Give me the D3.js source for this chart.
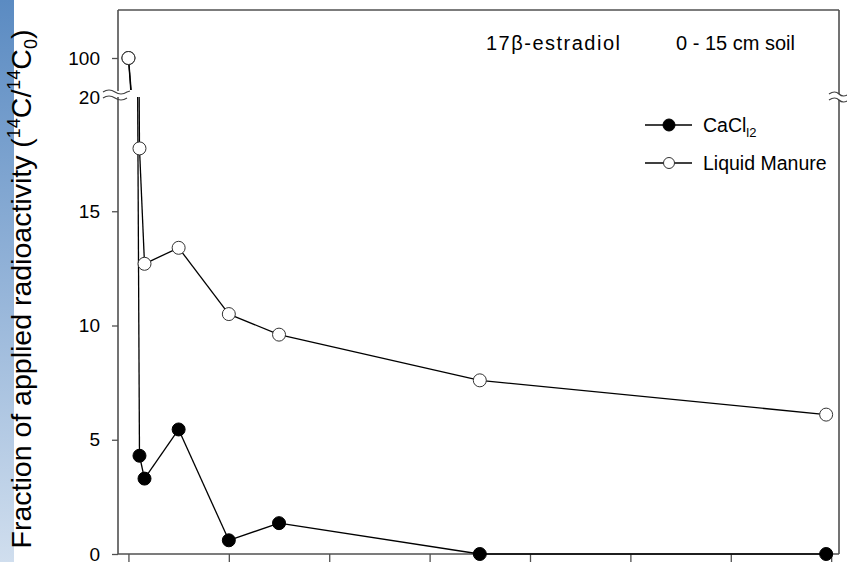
<!DOCTYPE html>
<html>
<head>
<meta charset="utf-8">
<script src="https://cdn.jsdelivr.net/npm/d3@7"></script>
<style>
  html, body { margin: 0; padding: 0; background: #fff; }
  svg { display: block; }
  text { font-family: "Liberation Sans", Arial, sans-serif; fill: #000; }
</style>
</head>
<body>
<svg id="chart" width="847" height="562"></svg>
<script>
// ---- data ----
const times   = [0, 1.1, 1.6, 5, 10, 15, 35, 69.5];
const cacl2   = [100, 4.3, 3.3, 5.45, 0.6, 1.35, 0, 0];
const manure  = [100, 17.75, 12.7, 13.4, 10.5, 9.6, 7.6, 6.1];
const seriesNames = ["CaCl", "Liquid Manure"];
const yTicksLower = [0, 5, 10, 15, 20];
const yTicksUpper = [100];
const xTicks = [0, 10, 20, 30, 40, 50, 60, 70];
const titleLeft = "17β-estradiol";
const titleRight = "0 - 15 cm soil";

const svg = d3.select("#chart");
const W = 847, H = 562;
const L = 118, R = 839, T = 10, B = 554;
const breakTop = 91, breakBot = 97;

// left gradient strip
const defs = svg.append("defs");
const grad = defs.append("linearGradient").attr("id", "strip")
  .attr("x1", 0).attr("y1", 0).attr("x2", 0).attr("y2", 1);
grad.append("stop").attr("offset", "0%").attr("stop-color", "#5b8bc2");
grad.append("stop").attr("offset", "50%").attr("stop-color", "#93b3d8");
grad.append("stop").attr("offset", "100%").attr("stop-color", "#d0deee");
svg.append("rect").attr("x", 0).attr("y", 0).attr("width", 14).attr("height", H)
  .attr("fill", "url(#strip)");

// scales
const x = d3.scaleLinear().domain([-1.04, 70.78]).range([L, R]);
const yLow = d3.scaleLinear().domain([0, 20]).range([B, 97]);
const yUp = d3.scaleLinear().domain([80, 130]).range([90, T]);
const segs = [{s: yLow, lo: 0, hi: 20}, {s: yUp, lo: 80, hi: 130}];

function yOf(v) { return v > 20 ? yUp(v) : yLow(v); }

// frame
const frameColor = "#505050";
const frame = svg.append("g").attr("stroke", frameColor).attr("stroke-width", 1.6).attr("fill", "none");
frame.append("line").attr("x1", L).attr("x2", R).attr("y1", T).attr("y2", T);
frame.append("line").attr("x1", L).attr("x2", R).attr("y1", B).attr("y2", B);
frame.append("line").attr("x1", L).attr("x2", L).attr("y1", T).attr("y2", breakTop);
frame.append("line").attr("x1", L).attr("x2", L).attr("y1", breakBot).attr("y2", B);
frame.append("line").attr("x1", R).attr("x2", R).attr("y1", T).attr("y2", breakTop + 3);
frame.append("line").attr("x1", R).attr("x2", R).attr("y1", breakBot + 3).attr("y2", B);

// axes
const tickFont = 19;
const axL = svg.append("g").attr("transform", `translate(${L},0)`)
  .call(d3.axisLeft(yLow).tickValues(yTicksLower).tickSize(6).tickPadding(12).tickFormat(d3.format("d")));
const axU = svg.append("g").attr("transform", `translate(${L},0)`)
  .call(d3.axisLeft(yUp).tickValues(yTicksUpper).tickSize(6).tickPadding(12).tickFormat(d3.format("d")));
const axB = svg.append("g").attr("transform", `translate(0,${B})`)
  .call(d3.axisBottom(x).tickValues(xTicks).tickSize(8).tickFormat(""));
[axL, axU, axB].forEach(a => {
  a.select(".domain").remove();
  a.selectAll(".tick line").attr("stroke", frameColor).attr("stroke-width", 1.3);
  a.selectAll(".tick text").attr("font-size", tickFont).attr("font-family", "Liberation Sans, Arial, sans-serif").attr("fill", "#000");
});
axL.selectAll(".tick").filter(d => d === 20).select("line").remove();

// break symbols
const brk = svg.append("g").attr("fill", "none").attr("stroke", "#404040").attr("stroke-width", 1.2);
svg.insert("rect", "g").attr("x", 100).attr("y", breakTop).attr("width", 30).attr("height", breakBot - breakTop).attr("fill", "#fff");
brk.append("path").attr("d", `M103,${breakTop+1} q6,-4 12,0 t12,0 l3,-1`);
brk.append("path").attr("d", `M103,${breakBot+1} q6,-4 12,0 t12,0`);
brk.append("path").attr("d", `M829,${breakTop+3} q6,-4 10,0 t10,0`);
brk.append("path").attr("d", `M829,${breakBot+3} q6,-4 10,0 t10,0`);

// line segments split across the axis break
function drawSeries(vals, filled) {
  const g = svg.append("g");
  for (let i = 0; i < vals.length - 1; i++) {
    const t0 = times[i], t1 = times[i + 1], v0 = vals[i], v1 = vals[i + 1];
    segs.forEach(sg => {
      let ta = 0, tb = 1;
      if (v1 !== v0) {
        let a = (sg.lo - v0) / (v1 - v0), b = (sg.hi - v0) / (v1 - v0);
        if (a > b) [a, b] = [b, a];
        ta = Math.max(0, a); tb = Math.min(1, b);
      } else if (v0 < sg.lo || v0 > sg.hi) return;
      if (tb <= ta) return;
      const p = t => [x(t0 + (t1 - t0) * t), sg.s(v0 + (v1 - v0) * t)];
      const [xa, ya] = p(ta), [xb, yb] = p(tb);
      g.append("line").attr("x1", xa).attr("y1", ya).attr("x2", xb).attr("y2", yb)
        .attr("stroke", "#000").attr("stroke-width", 1.3);
    });
  }
  g.selectAll("circle").data(vals.map((v, i) => [times[i], v])).join("circle")
    .attr("cx", d => x(d[0])).attr("cy", d => yOf(d[1])).attr("r", 6.5)
    .attr("fill", filled ? "#000" : "#fff")
    .attr("stroke", filled ? "#000" : "#333").attr("stroke-width", 1);
}
drawSeries(cacl2, true);
drawSeries(manure, false);

// title
svg.append("text").attr("x", 486).attr("y", 50).attr("font-size", 20)
  .attr("textLength", 134).attr("lengthAdjust", "spacing").text(titleLeft);
svg.append("text").attr("x", 676).attr("y", 50).attr("font-size", 20)
  .attr("textLength", 119).attr("lengthAdjust", "spacing").text(titleRight);

// legend
const leg = svg.append("g");
[[125, true], [163, false]].forEach(([ly, filled], i) => {
  leg.append("line").attr("x1", 645).attr("x2", 692).attr("y1", ly).attr("y2", ly)
    .attr("stroke", "#000").attr("stroke-width", 1.3);
  leg.append("circle").attr("cx", 669).attr("cy", ly).attr("r", filled ? 6 : 5.5)
    .attr("fill", filled ? "#000" : "#fff").attr("stroke", filled ? "#000" : "#333");
  const t = leg.append("text").attr("x", 703).attr("y", ly + 7).attr("font-size", 19.5);
  t.append("tspan").text(seriesNames[i]);
  if (i === 0) t.append("tspan").attr("font-size", 13).attr("dy", 5).text("l2");
});

// y-axis label
const yl = svg.append("text")
  .attr("transform", "translate(31,289) rotate(-90)")
  .attr("text-anchor", "middle").attr("font-size", 28.5);
yl.append("tspan").text("Fraction of applied radioactivity (");
yl.append("tspan").attr("font-size", 18).attr("dy", -11).text("14");
yl.append("tspan").attr("dy", 11).text("C/");
yl.append("tspan").attr("font-size", 18).attr("dy", -11).text("14");
yl.append("tspan").attr("dy", 11).text("C");
yl.append("tspan").attr("font-size", 18).attr("dy", 6).text("0");
yl.append("tspan").attr("dy", -6).text(")");
</script>
</body>
</html>
